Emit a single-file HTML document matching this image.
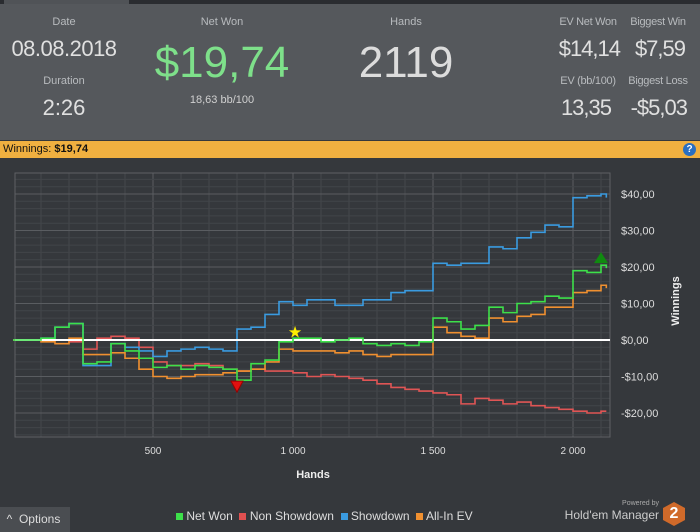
<!DOCTYPE html>
<html><head><meta charset="utf-8"><style>
body{margin:0;width:700px;height:532px;background:#35383c;font-family:"Liberation Sans",sans-serif;overflow:hidden;position:relative}
.t{position:absolute;text-align:center;color:#b8bbbe;font-size:11px}
.v{position:absolute;text-align:center;color:#e0e0e0}
.r{position:absolute;text-align:right;color:#e0e0e0;font-size:22px;letter-spacing:-1px;width:100px}
</style></head><body>
<div style="position:absolute;left:0;top:0;width:700px;height:4px;background:#2a2c30"><div style="position:absolute;left:4px;top:0;width:125px;height:4px;background:#505357"></div></div>
<div style="position:absolute;left:0;top:4px;width:700px;height:136px;background:#55585c">
<div class="t" style="left:14px;width:100px;top:12px">Date</div>
<div class="v" style="left:4px;width:120px;top:32px;font-size:22px;letter-spacing:-0.5px">08.08.2018</div>
<div class="t" style="left:14px;width:100px;top:71px">Duration</div>
<div class="v" style="left:14px;width:100px;top:91px;font-size:22px">2:26</div>
<div class="t" style="left:162px;width:120px;top:12px">Net Won</div>
<div class="v" style="left:142px;width:160px;top:34px;font-size:44px;color:#7ee08a">$19,74</div>
<div class="t" style="left:162px;width:120px;top:90px;color:#d0d0d0">18,63 bb/100</div>
<div class="t" style="left:346px;width:120px;top:12px">Hands</div>
<div class="v" style="left:326px;width:160px;top:34px;font-size:44px;color:#dcdcdc">2119</div>
<div class="t" style="left:548px;width:80px;top:12px;letter-spacing:-0.3px">EV Net Won</div>
<div class="t" style="left:618px;width:80px;top:12px;letter-spacing:-0.3px">Biggest Win</div>
<div class="r" style="left:520px;top:32px">$14,14</div>
<div class="r" style="left:585px;top:32px">$7,59</div>
<div class="t" style="left:548px;width:80px;top:71px;letter-spacing:-0.3px">EV (bb/100)</div>
<div class="t" style="left:618px;width:80px;top:71px;letter-spacing:-0.3px">Biggest Loss</div>
<div class="r" style="left:511px;top:91px">13,35</div>
<div class="r" style="left:587px;top:91px">-$5,03</div>
</div>
<div style="position:absolute;left:0;top:141px;width:700px;height:17px;background:#f0b040;font-size:11px;line-height:17px;color:#111">&nbsp;Winnings: <b>$19,74</b>
<div style="position:absolute;right:4px;top:2px;width:13px;height:13px;border-radius:50%;background:#2a6fc0;color:#fff;font-size:10px;line-height:13px;text-align:center;font-weight:bold">?</div></div>
<svg id="chart" width="700" height="374" style="position:absolute;left:0;top:158px"></svg>
<div style="position:absolute;left:0;top:507px;width:70px;height:25px;background:#4a4d51;color:#ddd;font-size:12px;line-height:25px">&nbsp;&nbsp;^&nbsp;&nbsp;Options</div>
<div style="position:absolute;left:176px;top:509px;font-size:12px;color:#ddd;white-space:nowrap">
<span><span style="display:inline-block;width:7px;height:7px;background:#3de04a"></span> Net Won</span>&nbsp;
<span><span style="display:inline-block;width:7px;height:7px;background:#e05050"></span> Non Showdown</span>&nbsp;
<span><span style="display:inline-block;width:7px;height:7px;background:#3a9be0"></span> Showdown</span>&nbsp;
<span><span style="display:inline-block;width:7px;height:7px;background:#f09030"></span> All-In EV</span></div>
<div style="position:absolute;left:560px;top:500px;width:99px;text-align:right;font-size:7px;color:#aaa">Powered by</div>
<div style="position:absolute;left:560px;top:508px;width:99px;text-align:right;font-size:12px;color:#ccc">Hold'em Manager</div>
<div style="position:absolute;left:663px;top:502px;width:22px;height:24px;background:#d06a2a;clip-path:polygon(50% 0,100% 25%,100% 75%,50% 100%,0 75%,0 25%);color:#fff;font-weight:bold;font-size:16px;text-align:center;line-height:24px">2</div>
<script>
const hands=[0,50,100,150,200,250,300,350,400,450,500,550,600,650,700,750,800,850,900,950,1000,1050,1100,1150,1200,1250,1300,1350,1400,1450,1500,1550,1600,1650,1700,1750,1800,1850,1900,1950,2000,2050,2100,2119];
const netWon=[0,0,0.5,3.5,4.5,-6.5,-6,-1,-3,-5,-7.5,-7,-8,-7,-7.5,-8,-11,-6.5,-5.5,-0.5,0.5,0.5,-0.5,0,0.5,-1,-1.5,-1,-1.5,-0.5,6,5,3,4,9,7.5,10,10.5,12,11.5,19,18.5,20.5,19.7];
const nonShowdown=[0,0,0,0,-0.5,-2.5,0.5,1,0.5,-2,-6,-7,-7,-6.5,-7,-8,-8.5,-8,-8.5,-8.5,-9,-10,-9.5,-10,-10.5,-11,-12,-13,-13.5,-14,-14.5,-15,-17.5,-16,-16.5,-17.5,-17,-18,-18.5,-19,-19.5,-20,-19.5,-19.5];
const showdown=[0,0,0.5,3.5,4.5,-7,-7,-1,-2,-3,-4.5,-3,-2.5,-2,-2.5,-3,3,3.5,7,10.5,9.5,11,11,9.5,9.5,11,11,13,13.5,13.5,21,20.5,21,21,25.5,25,28,29.5,31.5,31,39,39.5,40,39];
const allInEv=[0,0,-0.5,-1,0.5,-4,-4,-3.5,-5,-8,-10,-10.5,-10,-9.5,-9.5,-9,-8.5,-8,-6,-2.5,-3,-3,-3,-3.5,-3,-4,-4.5,-4,-4,-4,3.5,2,1,0.5,6,5,6.5,7,9,9,13,13.5,15,14.2];
const xTicks=[500,1000,1500,2000];
const xTickLabels=["500","1 000","1 500","2 000"];
const yTicks=[40,30,20,10,0,-10,-20];
const yTickLabels=["$40,00","$30,00","$20,00","$10,00","$0,00","-$10,00","-$20,00"];
const NS="http://www.w3.org/2000/svg",svg=document.getElementById("chart");
const X0=15,X1=610,T=15,B=279;
const xs=h=>13+h*0.28;
const ys=v=>182-v*3.65;
function el(t,a,p){const e=document.createElementNS(NS,t);for(const k in a)e.setAttribute(k,a[k]);(p||svg).appendChild(e);return e;}
const g=el("g",{});
for(let h=100;h<2150;h+=100){const x=xs(h);if(x>X1)break;const l=el("line",{x1:x,x2:x,y1:T,y2:B,stroke:h%500?"#45484c":"#5a5d61","stroke-width":1},g);

}
for(let v=-26;v<=44;v+=2){const y=ys(v);if(y<T||y>B)continue;const l=el("line",{x1:X0,x2:X1,y1:y,y2:y,stroke:v%10?"#424549":"#5a5d61","stroke-width":1},g);

}
const fr=el("rect",{x:X0,y:T,width:X1-X0,height:B-T,fill:"none",stroke:"#5e6165"});


xTicks.forEach((h,i)=>{const t=el("text",{x:xs(h),y:B+17,fill:"#ddd","font-size":10,"text-anchor":"middle"});t.textContent=xTickLabels[i];

});
yTicks.forEach((v,i)=>{const t=el("text",{x:621,y:ys(v)+4,fill:"#ddd","font-size":11});t.textContent=yTickLabels[i];

});
const xt=el("text",{x:313,y:320,fill:"#eee","font-size":11,"font-weight":"bold","text-anchor":"middle"});xt.textContent="Hands";


const yt=el("text",{x:0,y:0,fill:"#eee","font-size":11,"font-weight":"bold","text-anchor":"middle",transform:"translate(679,143) rotate(-90)"});yt.textContent="Winnings";


function step(vals,color,name){let d="M"+xs(hands[0])+","+ys(vals[0]);for(let i=1;i<hands.length;i++){d+=" H"+xs(hands[i])+" V"+ys(vals[i]);}
const p=el("path",{d:d,fill:"none",stroke:color,"stroke-width":1.6});

}
step(nonShowdown,"#e05555","non-showdown-line");
step(showdown,"#3a9be0","showdown-line");
step(allInEv,"#f09030","all-in-ev-line");
const zl=el("line",{x1:X0,x2:X1,y1:ys(0),y2:ys(0),stroke:"#fff","stroke-width":2});


step(netWon,"#3de04a","net-won-line");
let mi=0,ma=0;netWon.forEach((v,i)=>{if(v<netWon[mi])mi=i;if(v>netWon[ma])ma=i;});
const lo=el("polygon",{points:`${xs(hands[mi])-6},${ys(netWon[mi])+1} ${xs(hands[mi])+6},${ys(netWon[mi])+1} ${xs(hands[mi])},${ys(netWon[mi])+12}`,fill:"#e01010",stroke:"#900",});


const hi=el("polygon",{points:`${xs(hands[ma])-7},${ys(netWon[ma])-2} ${xs(hands[ma])+7},${ys(netWon[ma])-2} ${xs(hands[ma])},${ys(netWon[ma])-13}`,fill:"#108a10"});


const st=el("text",{x:xs(1000)+2,y:ys(2)+5,fill:"#ffee00","font-size":16,"text-anchor":"middle"});st.textContent="★";


</script>
</body></html>
